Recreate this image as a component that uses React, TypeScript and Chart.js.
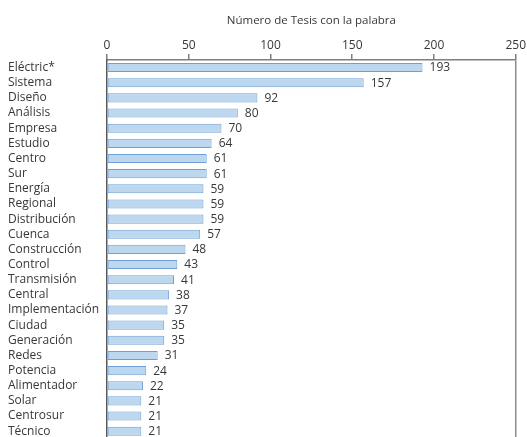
import React, { useEffect, useRef } from "react";
import { Chart, registerables } from "chart.js";

Chart.register(...registerables);

const categories = [
  "Eléctric*", "Sistema", "Diseño", "Análisis", "Empresa", "Estudio", "Centro", "Sur",
  "Energía", "Regional", "Distribución", "Cuenca", "Construcción", "Control", "Transmisión",
  "Central", "Implementación", "Ciudad", "Generación", "Redes", "Potencia", "Alimentador",
  "Solar", "Centrosur", "Técnico",
];

const counts = [
  193, 157, 92, 80, 70, 64, 61, 61, 59, 59, 59, 57, 48, 43, 41, 38, 37, 35, 35, 31, 24, 22, 21, 21, 21,
];

const axisTitle = "Número de Tesis con la palabra";
const xTicks = [0, 50, 100, 150, 200, 250];

const FONT = "'Open Sans', 'Noto Sans', sans-serif";
const TEXT = "#383838";

// Writes each bar's count just past its end.
const valueLabels = {
  id: "valueLabels",
  afterDatasetsDraw(chart: any) {
    const ctx = chart.ctx;
    const meta = chart.getDatasetMeta(0);
    ctx.save();
    ctx.font = `12px ${FONT}`;
    ctx.fillStyle = TEXT;
    ctx.textAlign = "left";
    ctx.textBaseline = "middle";
    meta.data.forEach((bar: any, i: number) => {
      ctx.fillText(String(counts[i]), bar.x + 7, bar.y + 0.5);
    });
    ctx.restore();
  },
};

export default function App() {
  const ref = useRef<HTMLCanvasElement | null>(null);

  useEffect(() => {
    if (!ref.current) return;
    const chart = new Chart(ref.current, {
      type: "bar",
      data: {
        labels: categories,
        datasets: [
          {
            data: counts,
            backgroundColor: "#bdd7ee",
            borderColor: "#6f9fd6",
            borderWidth: 1,
            borderSkipped: false,
            barPercentage: 0.6,
            categoryPercentage: 1,
          },
        ],
      },
      options: {
        indexAxis: "y",
        animation: false,
        responsive: false,
        maintainAspectRatio: false,
        layout: { padding: { left: 8, right: 11, top: 0, bottom: 2 } },
        plugins: {
          legend: { display: false },
          tooltip: { enabled: false },
        },
        scales: {
          x: {
            position: "top",
            min: 0,
            max: 250,
            afterBuildTicks: (axis: any) => {
              axis.ticks = xTicks.map((v) => ({ value: v }));
            },
            afterFit: (axis: any) => {
              axis.height = 60;
            },
            ticks: {
              color: TEXT,
              font: { family: FONT, size: 12 },
              padding: 1,
              maxRotation: 0,
            },
            grid: {
              drawOnChartArea: true,
              color: (c: any) => (c.tick && c.tick.value === 250 ? "#8c8c8c" : "rgba(0,0,0,0)"),
              lineWidth: 1.5,
              tickColor: "#7f7f7f",
              tickLength: 6,
            },
            border: { display: true, color: "#7f7f7f", width: 1.5 },
            title: {
              display: true,
              text: axisTitle,
              color: TEXT,
              font: { family: FONT, size: 11.5 },
              padding: { top: 14, bottom: 0 },
            },
          },
          y: {
            afterFit: (axis: any) => {
              axis.width = 99;
            },
            ticks: {
              color: TEXT,
              font: { family: FONT, size: 12 },
              crossAlign: "far",
              padding: 0,
              autoSkip: false,
            },
            grid: { drawOnChartArea: false, drawTicks: false },
            border: { display: true, color: "#595959", width: 1.5 },
          },
        },
      },
      plugins: [valueLabels],
    });
    return () => chart.destroy();
  }, []);

  return (
    <div style={{ position: "fixed", left: 0, top: 0, width: 527, height: 437, overflow: "hidden", background: "#fff" }}>
      <canvas ref={ref} width={527} height={446} style={{ position: "absolute", left: 0, top: 0 }} />
    </div>
  );
}
